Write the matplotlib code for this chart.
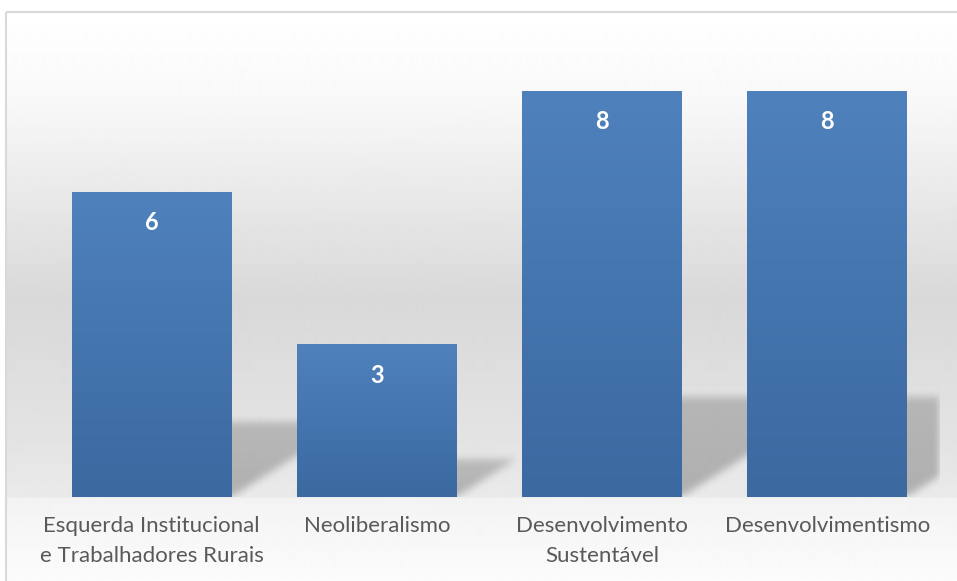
import matplotlib.pyplot as plt
import numpy as np
from matplotlib.colors import LinearSegmentedColormap

# Dados do gráfico
categorias = ['Esquerda Institucional\ne Trabalhadores Rurais', 'Neoliberalismo',
              'Desenvolvimento\nSustentável', 'Desenvolvimentismo']
valores = [6, 3, 8, 8]

W, H = 957, 581
fig = plt.figure(figsize=(W / 100, H / 100), dpi=100)
fig.patch.set_facecolor('white')

# Fundo da área do gráfico: gradiente vertical cinza
bg = fig.add_axes([0, 0, 1, 1], zorder=0)
bg.set_xlim(0, W)
bg.set_ylim(H, 0)
bg.axis('off')
paradas_y = [12, 100, 200, 300, 420, 496, 499, 581]
paradas_c = [1.0, 0.975, 0.91, 0.85, 0.885, 0.915, 0.955, 0.985]
yy = np.arange(12, H)
tons = np.interp(yy, paradas_y, paradas_c)
grad = np.repeat(tons[:, None], 2, axis=1)
bg.imshow(grad, cmap='gray', vmin=0, vmax=1, aspect='auto',
          extent=[6, W, H, 12], interpolation='bilinear')
bg.add_patch(plt.Rectangle((5.5, 11.5), W, H, fill=False,
                           edgecolor='#d9d9d9', linewidth=1.5))

# Eixo principal
base_px = 497
px_por_unid = 50.75
ymax = 9
topo_px = base_px - ymax * px_por_unid
ax = fig.add_axes([39 / W, (H - base_px) / H, (940 - 39) / W,
                   (base_px - topo_px) / H], zorder=1)
ax.patch.set_alpha(0)
ax.set_xlim(-0.5, 3.5)
ax.set_ylim(0, ymax)
for s in ax.spines.values():
    s.set_visible(False)
ax.set_yticks([])

x = np.arange(len(valores))
largura = 0.71

# Sombras em perspectiva atrás das barras
nx, ny = 901, int(round(base_px - topo_px))
xs = np.linspace(-0.5, 3.5, nx)
ys = np.linspace(0, ymax, ny)
XX, YY = np.meshgrid(xs, ys)
ux = 4 / nx      # unidades de x por pixel
uy = ymax / ny   # unidades de y por pixel
mascara = np.zeros_like(XX)
for xi, v in zip(x, valores):
    h = 12.5 * v * uy
    dx = (12.5 * v / 0.63) * ux
    t = np.clip(YY / h, 0, None)
    x0 = xi - largura / 2 + dx * t
    x1 = xi + largura / 2 + dx * t
    dentro = (YY <= h) & (XX >= x0) & (XX <= x1)
    mascara = np.maximum(mascara, dentro * (1 - 0.25 * t))


def desfocar(a, r):
    k = np.ones(2 * r + 1) / (2 * r + 1)
    a = np.apply_along_axis(lambda m: np.convolve(m, k, mode='same'), 0, a)
    a = np.apply_along_axis(lambda m: np.convolve(m, k, mode='same'), 1, a)
    return a


mascara = desfocar(desfocar(mascara, 4), 4)
sombra = np.zeros((ny, nx, 4))
sombra[..., 3] = mascara * 0.25
ax.imshow(sombra, origin='lower', extent=[-0.5, 3.5, 0, ymax],
          aspect='auto', zorder=1, interpolation='bilinear')

# Barras com gradiente vertical
barras = ax.bar(x, valores, width=largura, color='#4a7ab5', zorder=2)
cmap_barra = LinearSegmentedColormap.from_list('barra', ['#3b69a0', '#4f81bd'])
grad_barra = np.linspace(0, 1, 256)[:, None]
for b in barras:
    bx, by = b.get_x(), b.get_y()
    ax.imshow(grad_barra, cmap=cmap_barra, origin='lower', aspect='auto',
              extent=[bx, bx + b.get_width(), by, by + b.get_height()],
              zorder=3, interpolation='bilinear')

# Rótulos de valor
for xi, v in zip(x, valores):
    ax.text(xi, v - 0.6, str(v), ha='center', va='center', color='white',
            fontsize=17, fontweight='bold', family='Lato', zorder=4)

ax.set_xticks(x)
ax.set_xticklabels(categorias, fontsize=16, color='#595959', family='Lato',
                   linespacing=1.6)
ax.tick_params(axis='x', length=0, pad=14)
ax.set_xlim(-0.5, 3.5)
ax.set_ylim(0, ymax)

fig.savefig('out.png', dpi=100)
